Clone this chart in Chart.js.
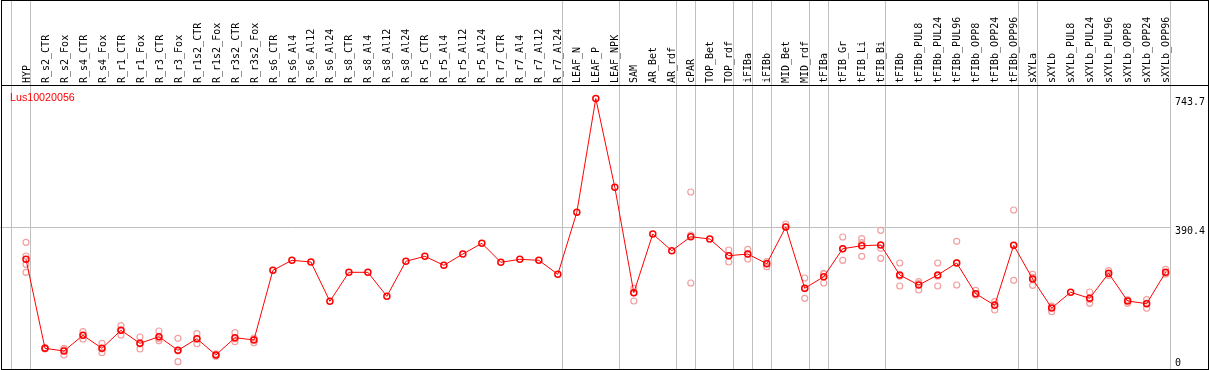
<!DOCTYPE html>
<html>
<head>
<meta charset="utf-8">
<title>Lus10020056</title>
<script src="https://cdn.jsdelivr.net/npm/chart.js@4.4.1/dist/chart.umd.min.js"></script>
<style>
  html, body { margin: 0; padding: 0; background: #fff; }
  #wrap { position: relative; width: 1209px; height: 370px; overflow: hidden; }
  #chart { display: block; }
  #divider { position: absolute; left: 1px; top: 85px; width: 1208px; height: 1px; background: #000; pointer-events: none; }
  #frame { position: absolute; left: 1px; top: 0; width: 1208px; height: 370px; box-sizing: border-box; border: 1px solid #000; pointer-events: none; }
</style>
</head>
<body>
<div id="wrap">
  <canvas id="chart" width="1209" height="370"></canvas>
  <div id="divider"></div>
  <div id="frame"></div>
</div>
<script>
const geneName = 'Lus10020056';

// Sample names along the top
const samples = ['HYP', 'R_s2_CTR', 'R_s2_Fox', 'R_s4_CTR', 'R_s4_Fox', 'R_r1_CTR', 'R_r1_Fox', 'R_r3_CTR', 'R_r3_Fox',
  'R_r1s2_CTR', 'R_r1s2_Fox', 'R_r3s2_CTR', 'R_r3s2_Fox', 'R_s6_CTR', 'R_s6_Al4', 'R_s6_Al12', 'R_s6_Al24',
  'R_s8_CTR', 'R_s8_Al4', 'R_s8_Al12', 'R_s8_Al24', 'R_r5_CTR', 'R_r5_Al4', 'R_r5_Al12', 'R_r5_Al24',
  'R_r7_CTR', 'R_r7_Al4', 'R_r7_Al12', 'R_r7_Al24', 'LEAF_N', 'LEAF_P', 'LEAF_NPK', 'SAM', 'AR_Bet', 'AR_rdf',
  'cPAR', 'TOP_Bet', 'TOP_rdf', 'iFIBa', 'iFIBb', 'MID_Bet', 'MID_rdf', 'tFIBa', 'tFIB_Gr', 'tFIB_Li', 'tFIB_Bi',
  'tFIBb', 'tFIBb_PUL8', 'tFIBb_PUL24', 'tFIBb_PUL96', 'tFIBb_OPP8', 'tFIBb_OPP24', 'tFIBb_OPP96',
  'sXYLa', 'sXYLb', 'sXYLb_PUL8', 'sXYLb_PUL24', 'sXYLb_PUL96', 'sXYLb_OPP8', 'sXYLb_OPP24', 'sXYLb_OPP96'];

// Mean expression per sample (joined red line)
const means = [303.2, 59.4, 52.0, 95.0, 59.4, 108.7, 73.1, 91.2, 54.0, 85.7, 41.1, 88.5, 82.2,
  273.1, 300.5, 295.8, 188.2, 267.6, 267.6, 201.9, 297.7, 311.4, 286.8, 317.7, 347.1, 295.0, 303.2, 300.5, 262.1,
  432.0, 743.7, 500.5, 211.7, 372.5, 326.8, 365.1, 358.8, 313.1, 317.7, 291.2, 391.7, 223.8, 255.6, 332.3, 340.5, 342.4,
  260.2, 232.8, 260.2, 293.1, 209.0, 177.2, 341.6, 249.3, 169.8, 212.8, 196.4, 264.9, 189.0, 181.6, 267.6];

// Single replicates per sample (faint circles)
const replicates = [
  [349.8, 312.3, 289.5, 267.6], [61.1, 59.4, 57.5], [59.4, 55.0, 41.1], [104.9, 95.0, 84.9], [73.1, 58.0, 47.4],
  [121.3, 109.0, 95.9], [90.4, 71.5, 57.5], [106.8, 86.5, 80.3], [86.8, 52.5, 22.7], [99.4, 85.7, 72.0],
  [44.0, 41.1, 38.0], [102.2, 85.8, 77.5], [87.7, 84.0, 74.8],
  [], [], [], [], [], [], [], [], [], [], [], [], [], [], [], [], [], [], [],
  [223.8, 212.0, 189.0], [], [], [487.6, 369.4, 238.3], [], [328.7, 313.0, 295.8], [330.6, 318.0, 304.1],
  [296.7, 293.0, 283.0], [399.9, 391.7], [252.0, 223.0, 196.4], [264.9, 263.0, 238.3], [364.3, 332.0, 300.5],
  [359.7, 348.7, 311.4], [382.7, 333.4, 306.0], [293.1, 257.0, 230.1], [241.9, 237.0, 219.1],
  [293.1, 257.0, 230.1], [352.5, 294.0, 232.8], [218.3, 209.0, 205.4], [187.1, 180.0, 164.4],
  [438.3, 341.0, 245.7], [262.1, 254.0, 232.0], [175.3, 174.0, 159.7], [], [213.7, 193.0, 182.7],
  [272.0, 263.0, 259.4], [191.7, 192.0, 182.7], [192.6, 183.0, 169.0], [275.8, 264.0, 263.0]];

// Index of the last sample of each group, a grey rule follows it
const groupEnds = [-1, 0, 28, 31, 34, 35, 37, 38, 39, 41, 42, 45, 52, 53, 60];

// Right hand axis
const yTicks = [0, 390.4, 743.7];
const yTickLabels = ['0', '390.4', '743.7'];
const yRules = [390.4];

const SEP_SHIFT = 0.23;
const sepValues = groupEnds.map(i => i + SEP_SHIFT);
const xTickValues = samples.map((s, i) => i).concat(sepValues).sort((a, b) => a - b);
const isSep = v => !Number.isInteger(v);

const meanPoints = means.map((v, i) => ({ x: i, y: v }));
const repPoints = [];
replicates.forEach((reps, i) => reps.forEach(v => repPoints.push({ x: i, y: v })));

const monoFont = { family: '"DejaVu Sans Mono", monospace', size: 10 };

// gene name in the top left corner of the plot
const geneLabel = {
  id: 'geneLabel',
  afterDatasetsDraw(chart) {
    const ctx = chart.ctx;
    ctx.save();
    ctx.font = '10.7px "Liberation Sans", Arial, sans-serif';
    ctx.fillStyle = '#ff0000';
    ctx.textBaseline = 'alphabetic';
    ctx.fillText(chart.data.datasets[0].label, chart.chartArea.left + 10, chart.chartArea.top + 16);
    ctx.restore();
  }
};

new Chart(document.getElementById('chart'), {
  type: 'line',
  data: {
    datasets: [
      {
        label: geneName,
        data: meanPoints,
        borderColor: '#ff0000',
        borderWidth: 1,
        tension: 0,
        clip: false,
        pointRadius: 3,
        pointBorderWidth: 1.5,
        pointBorderColor: '#ff0000',
        pointBackgroundColor: 'rgba(0,0,0,0)'
      },
      {
        label: 'replicates',
        data: repPoints,
        showLine: false,
        clip: false,
        pointRadius: 3,
        pointBorderWidth: 1.2,
        pointBorderColor: '#f0a0a0',
        pointBackgroundColor: 'rgba(0,0,0,0)'
      }
    ]
  },
  options: {
    responsive: false,
    animation: false,
    devicePixelRatio: 1,
    layout: { padding: 0, autoPadding: false },
    plugins: { legend: { display: false }, tooltip: { enabled: false } },
    scales: {
      x: {
        type: 'linear',
        position: 'top',
        min: -26 / 19,
        max: 60 + SEP_SHIFT,
        afterBuildTicks: s => { s.ticks = xTickValues.map(v => ({ value: v })); },
        afterFit: s => { s.height = 85; s.paddingLeft = 0; s.paddingRight = 0; s.paddingTop = 0; s.paddingBottom = 0; },
        grid: {
          drawTicks: true,
          tickLength: 85,
          color: '#c0c0c0',
          lineWidth: ctx => (ctx.tick && isSep(ctx.tick.value)) ? 1 : 0
        },
        border: { display: false },
        ticks: {
          autoSkip: false,
          minRotation: 90,
          maxRotation: 90,
          padding: -83,
          labelOffset: 13,
          color: '#000',
          font: monoFont,
          callback: v => isSep(v) ? '' : samples[v]
        }
      },
      y: {
        type: 'linear',
        position: 'right',
        min: 0,
        max: 780.7,
        afterBuildTicks: s => { s.ticks = yTicks.map(v => ({ value: v })); },
        afterFit: s => { s.width = 39; s.paddingTop = 0; s.paddingBottom = 0; s.paddingLeft = 0; s.paddingRight = 0; },
        grid: {
          drawTicks: false,
          color: '#c0c0c0',
          lineWidth: ctx => (ctx.tick && yRules.includes(ctx.tick.value)) ? 1 : 0
        },
        border: { display: false },
        ticks: {
          padding: 5,
          labelOffset: 3.5,
          color: '#000',
          font: { family: '"DejaVu Sans Mono", monospace', size: 10, lineHeight: 2 },
          callback: (v, i) => i === 0 ? [yTickLabels[i], ''] : yTickLabels[i]
        }
      }
    }
  },
  plugins: [geneLabel]
});
</script>
</body>
</html>
